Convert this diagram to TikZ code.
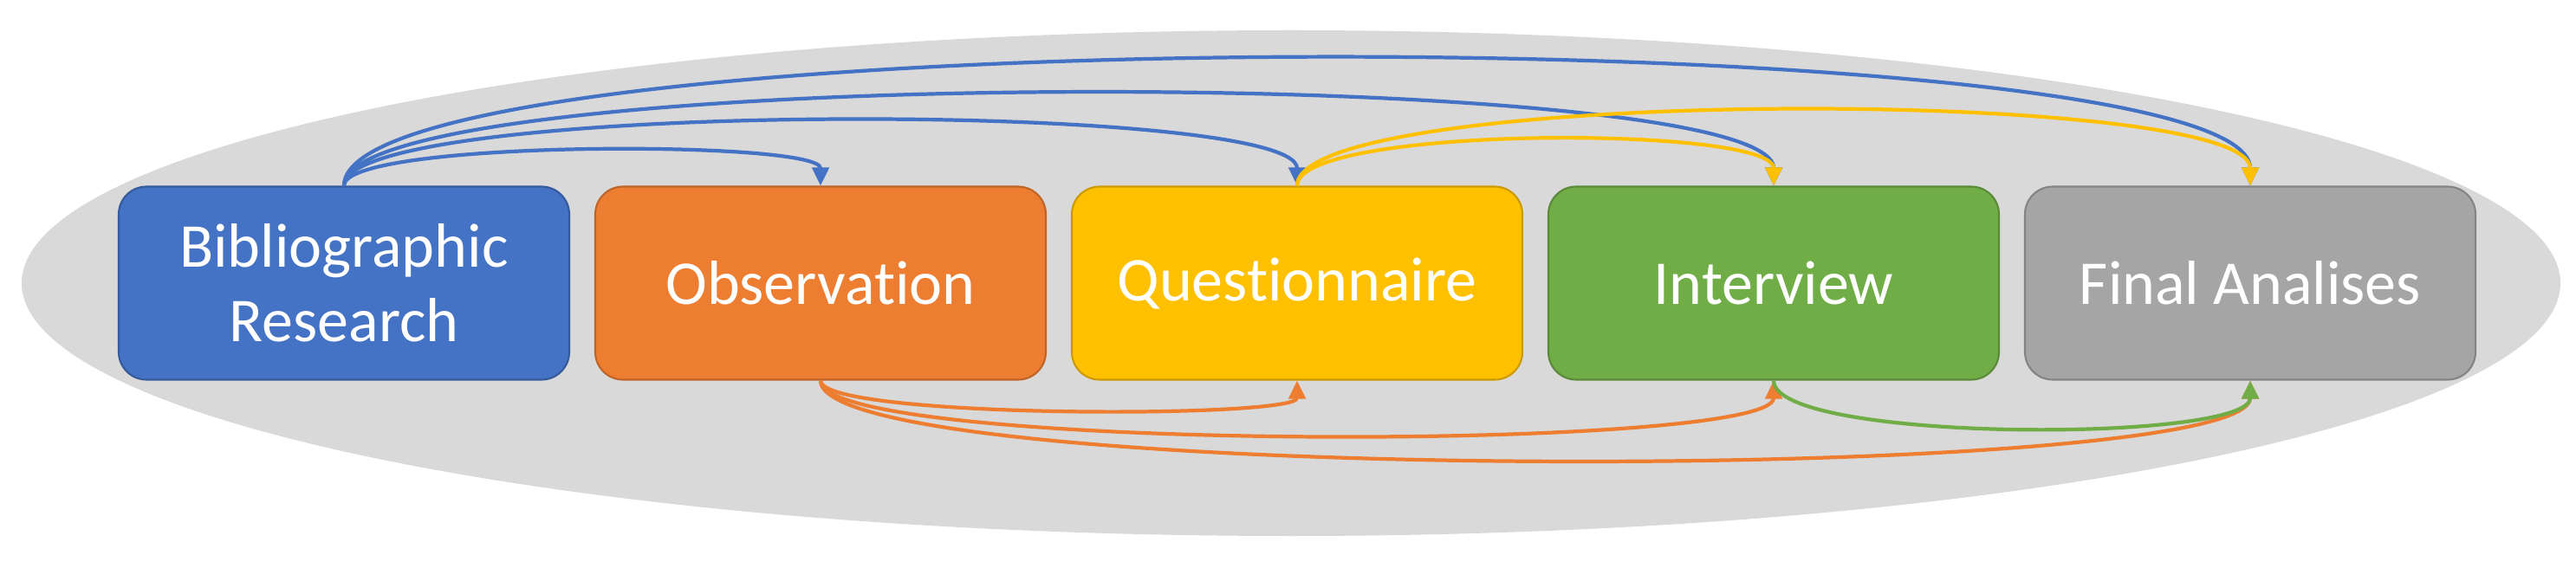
\documentclass[tikz,border=0pt]{standalone}
\usepackage{fontspec}
\setmainfont{Carlito}[Ligatures=NoCommon]
\usetikzlibrary{positioning, arrows.meta}

\definecolor{cblue}{HTML}{4472C4}
\definecolor{corange}{HTML}{ED7D31}
\definecolor{cyellow}{HTML}{FFC000}
\definecolor{cgreen}{HTML}{70AD47}
\definecolor{cgray}{HTML}{A5A5A5}
\definecolor{bggray}{HTML}{D9D9D9}

\begin{document}
\begin{tikzpicture}[node distance=5.5cm, on grid, >={Triangle[length=6pt, width=5.5pt]}, line width=1.2pt]
    \tikzset{stage/.style={rectangle, rounded corners=0.32cm, minimum width=5.2cm, minimum height=2.23cm,
        draw=#1!80!black, fill=#1, line width=0.6pt, text=white, align=center,
        font=\fontsize{20.5}{24.5}\selectfont}}
    \useasboundingbox (0,0) rectangle (29.73,6.55);

    % BACKGROUND
    \fill[bggray] (14.9,3.28) ellipse (14.65cm and 2.92cm);

    % STAGES
    \node[stage=cblue] (bib) at (3.97,3.28) {Bibliographic\\Research};
    \node[stage=corange] (obs) [right=of bib] {Observation};
    \node[stage=cyellow] (que) [right=of obs] {Questionnaire};
    \node[stage=cgreen] (int) [right=of que] {Interview};
    \node[stage=cgray] (fin) [right=of int] {Final Analises};

    % TOP ARROWS
    \path[->, cblue]
        (bib.north) edge[out=90, in=90, distance=0.53cm] (obs.north)
        (bib.north) edge[out=90, in=90, distance=0.99cm] (que.north)
        (bib.north) edge[out=90, in=90, distance=1.41cm] (int.north)
        (bib.north) edge[out=90, in=90, distance=1.95cm] (fin.north);
    \path[->, cyellow]
        (que.north) edge[out=90, in=90, distance=0.7cm] (int.north)
        (que.north) edge[out=90, in=90, distance=1.15cm] (fin.north);

    % BOTTOM ARROWS
    \path[->, corange]
        (obs.south) edge[out=-90, in=-90, distance=0.44cm] (que.south)
        (obs.south) edge[out=-90, in=-90, distance=0.83cm] (int.south)
        (obs.south) edge[out=-90, in=-90, distance=1.21cm] (fin.south);
    \path[->, cgreen]
        (int.south) edge[out=-90, in=-90, distance=0.72cm] (fin.south);
\end{tikzpicture}
\end{document}
